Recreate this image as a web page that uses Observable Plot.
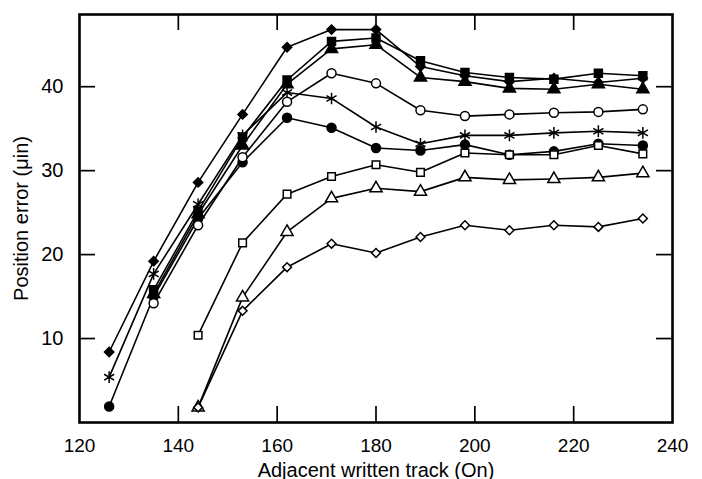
<!DOCTYPE html>
<html><head><meta charset="utf-8">
<script src="https://cdn.jsdelivr.net/npm/d3@7"></script>
<script src="https://cdn.jsdelivr.net/npm/@observablehq/plot@0.6"></script>
<style>body{margin:0;background:#fff}#chart svg{display:block}</style>
</head><body><div id="chart"></div>
<script>
const tracks = [126, 135, 144, 153, 162, 171, 180, 189, 198, 207, 216, 225, 234];

const filledDiamond  = [8.4, 19.2, 28.6, 36.7, 44.7, 46.8, 46.8, 42.4, 41.3, 40.6, 41.0, 40.5, 41.0];
const asteriskSeries = [5.4, 17.7, 26.0, 34.2, 39.3, 38.6, 35.2, 33.2, 34.2, 34.2, 34.5, 34.7, 34.5];
const filledCircle   = [1.9, 15.0, 24.3, 31.0, 36.3, 35.1, 32.7, 32.4, 33.1, 31.9, 32.3, 33.2, 33.0];
const openCircle     = [null, 14.2, 23.5, 31.6, 38.2, 41.6, 40.4, 37.2, 36.5, 36.7, 36.9, 37.0, 37.3];
const filledSquare   = [null, 15.8, 25.2, 34.0, 40.8, 45.4, 45.8, 43.1, 41.7, 41.1, 40.9, 41.6, 41.3];
const filledTriangle = [null, 15.3, 24.8, 33.0, 40.3, 44.5, 45.0, 41.1, 40.6, 39.8, 39.7, 40.3, 39.7];
const openSquare     = [null, null, 10.4, 21.4, 27.2, 29.3, 30.7, 29.8, 32.1, 31.9, 31.9, 33.0, 32.0];
const openTriangle   = [null, null, 1.8, 14.9, 22.7, 26.7, 27.9, 27.5, 29.2, 28.9, 29.0, 29.2, 29.7];
const openDiamond    = [null, null, 1.8, 13.3, 18.5, 21.3, 20.2, 22.1, 23.5, 22.9, 23.5, 23.3, 24.3];

const xTicks = [120, 140, 160, 180, 200, 220, 240];
const yTicks = [10, 20, 30, 40];
const xInnerTicks = [140, 160, 180, 200, 220];

const seriesDefs = [
  {name: "filledDiamond", values: filledDiamond, symbol: "diamond2", fill: "black", r: 4.2},
  {name: "asterisk", values: asteriskSeries, symbol: "asterisk", fill: "none", r: 5.5},
  {name: "filledCircle", values: filledCircle, symbol: "circle", fill: "black", r: 4.5},
  {name: "openCircle", values: openCircle, symbol: "circle", fill: "white", r: 4.5},
  {name: "filledSquare", values: filledSquare, symbol: "square", fill: "black", r: 4.5},
  {name: "filledTriangle", values: filledTriangle, symbol: "triangle", fill: "black", r: 4.5},
  {name: "openSquare", values: openSquare, symbol: "square", fill: "white", r: 4.3},
  {name: "openTriangle", values: openTriangle, symbol: "triangle", fill: "white", r: 4.5},
  {name: "openDiamond", values: openDiamond, symbol: "diamond2", fill: "white", r: 4.0}
];

const rows = seriesDefs.flatMap(s =>
  tracks.map((t, i) => ({series: s.name, track: t, value: s.values[i]})).filter(d => d.value != null)
);

const W = 702, H = 479, ML = 79, MR = 30, MT = 14, MB = 57, TICK = 16;
const xDomain = [120, 240], yDomain = [0, 48.6];
const innerW = W - ML - MR, innerH = H - MT - MB;
const tickLenX = TICK * (xDomain[1] - xDomain[0]) / innerW;

const marks = [];
marks.push(Plot.axisX({anchor: "bottom", ticks: xTicks, tickSize: 0, tickPadding: 16, fontSize: 19,
  label: null}));
marks.push(Plot.axisY({anchor: "left", ticks: yTicks, tickSize: 0, tickPadding: 16, fontSize: 20,
  label: "Position error (\u03bcin)", labelAnchor: "center", labelOffset: 66, labelArrow: "none"}));
marks.push(Plot.axisX({anchor: "bottom", ticks: xTicks, tickSize: 0, tickFormat: () => "", fontSize: 20,
  label: "Adjacent written track (On)", labelAnchor: "center", labelOffset: 54, labelArrow: "none"}));

for (const s of seriesDefs) {
  marks.push(Plot.line(rows.filter(d => d.series === s.name), {x: "track", y: "value", stroke: "black", strokeWidth: 1.6}));
}
for (const s of seriesDefs) {
  marks.push(Plot.dot(rows.filter(d => d.series === s.name), {
    x: "track", y: "value", symbol: s.symbol, r: s.r, fill: s.fill, stroke: "black", strokeWidth: 1.5
  }));
}
marks.push(Plot.frame({stroke: "black", strokeWidth: 2.6}));
// inward ticks on all four sides
const tk = {stroke: "black", strokeWidth: 1.7};
marks.push(Plot.tickX(xInnerTicks, {x: d => d, insetTop: innerH - TICK, ...tk}));
marks.push(Plot.tickX(xInnerTicks, {x: d => d, insetBottom: innerH - TICK, ...tk}));
marks.push(Plot.ruleY(yTicks, {y: d => d, x1: xDomain[0], x2: xDomain[0] + tickLenX, ...tk}));
marks.push(Plot.ruleY(yTicks, {y: d => d, x1: xDomain[1] - tickLenX, x2: xDomain[1], ...tk}));

const chart = Plot.plot({
  width: W,
  height: H,
  marginLeft: ML,
  marginRight: MR,
  marginTop: MT,
  marginBottom: MB,
  style: {fontFamily: "'Liberation Sans', Arial, Helvetica, sans-serif", color: "black", background: "white"},
  x: {domain: xDomain},
  y: {domain: yDomain},
  marks
});
document.getElementById("chart").appendChild(chart);
</script>
</body></html>
